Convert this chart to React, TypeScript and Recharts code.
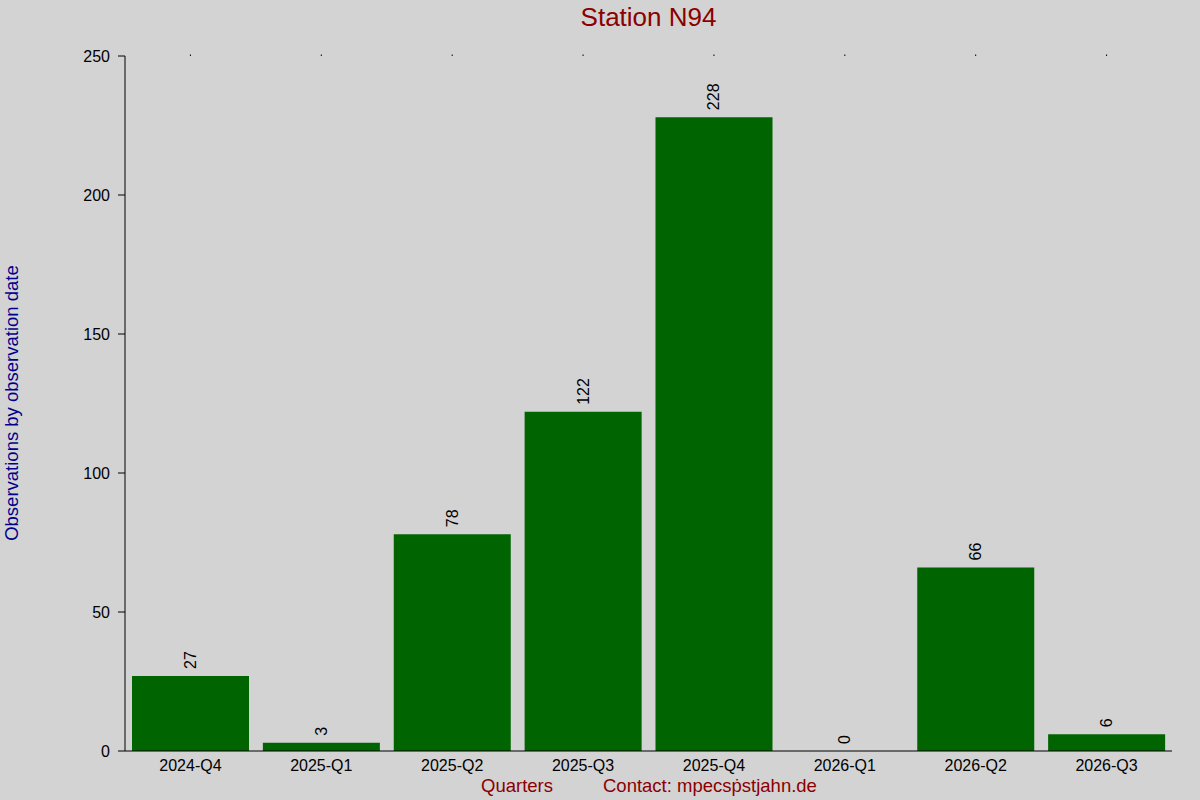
import { ComposedChart, Bar, Line, XAxis, YAxis, LabelList } from "recharts";

const quarters = ["2024-Q4", "2025-Q1", "2025-Q2", "2025-Q3", "2025-Q4", "2026-Q1", "2026-Q2", "2026-Q3"];
const observations = [27, 3, 78, 122, 228, 0, 66, 6];
const yTicks = [0, 50, 100, 150, 200, 250];

const data = quarters.map((q, i) => ({ quarter: q, count: observations[i] }));

const font = "'Liberation Sans', Arial, sans-serif";

// value label drawn at the point of an invisible line, rotated upward
const ValueLabel = (props: any) => {
  const { x, y, value } = props;
  const ty = y - 7;
  return (
    <text
      x={x}
      y={ty}
      transform={`rotate(-90 ${x} ${ty})`}
      textAnchor="start"
      dominantBaseline="central"
      fontSize={16}
      fontFamily={font}
      fill="#000"
    >
      {value}
    </text>
  );
};

export default function App() {
  return (
    <div style={{ position: "absolute", left: 0, top: 0, width: 1200, height: 800, background: "#d3d3d3", fontFamily: font }}>
      <style>{`body{margin:0}`}</style>
      <div style={{ position: "absolute", left: 0, width: 1297, top: 2, textAlign: "center", fontSize: 26, color: "#8b0000" }}>
        Station N94
      </div>
      <div
        style={{
          position: "absolute",
          left: 12,
          top: 403,
          transform: "translate(-50%, -50%) rotate(-90deg)",
          whiteSpace: "nowrap",
          fontSize: 18.5,
          color: "#00008b",
        }}
      >
        Observations by observation date
      </div>
      <div style={{ position: "absolute", left: 481, top: 775, fontSize: 18.5, color: "#8b0000", whiteSpace: "nowrap" }}>
        Quarters
      </div>
      <div style={{ position: "absolute", left: 603, top: 775, fontSize: 18.5, color: "#8b0000", whiteSpace: "nowrap" }}>
        Contact: mpecsṗstjahn.de
      </div>
      <ComposedChart
        width={1200}
        height={800}
        data={data}
        margin={{ top: 55, right: 28, left: 1, bottom: 0 }}
        barCategoryGap={7}
        style={{ position: "absolute", left: 0, top: 0 }}
      >
        <XAxis
          dataKey="quarter"
          height={49}
          axisLine={{ stroke: "#000" }}
          tickLine={false}
          tickSize={6}
          tickMargin={3}
          tick={{ fontSize: 16, fill: "#000", fontFamily: font }}
        />
        <XAxis
          xAxisId="top"
          dataKey="quarter"
          orientation="top"
          height={1}
          axisLine={false}
          tickLine={{ stroke: "#000", strokeWidth: 1 }}
          tickSize={1.5}
          tickFormatter={() => ""}
        />
        <YAxis
          width={124}
          domain={[0, 250]}
          ticks={yTicks}
          axisLine={{ stroke: "#000" }}
          tickLine={{ stroke: "#000" }}
          tickSize={7}
          tickMargin={8}
          tick={{ fontSize: 16, fill: "#000", fontFamily: font }}
        />
        <Bar dataKey="count" fill="#006400" isAnimationActive={false} />
        <Line dataKey="count" stroke="none" dot={false} activeDot={false} isAnimationActive={false}>
          <LabelList dataKey="count" content={ValueLabel} />
        </Line>
      </ComposedChart>
    </div>
  );
}
